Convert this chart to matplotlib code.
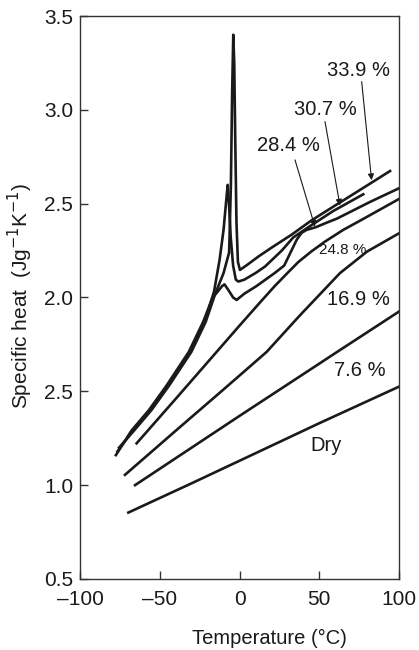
import matplotlib
matplotlib.use("Agg")
import matplotlib.pyplot as plt

plt.rcParams['font.family'] = ['Liberation Sans', 'DejaVu Sans']

# curves: temperature (C) and specific heat (J/g/K)
t_dry = [-69.7, -30, 0, 50, 100]
cp_dry = [0.854, 1.01, 1.13, 1.33, 1.525]

t_76 = [-65.5, 0, 37.9, 63, 100]
cp_76 = [1.0, 1.369, 1.58, 1.72, 1.925]

t_169 = [-71.8, -40, -10, 17, 37.9, 63, 80, 100]
cp_169 = [1.055, 1.29, 1.51, 1.71, 1.905, 2.13, 2.245, 2.342]

t_248 = [-64.5, -40, -20, 0, 13, 22, 30, 37, 45, 53.6, 65, 78.7, 100]
cp_248 = [1.223, 1.46, 1.655, 1.85, 1.975, 2.06, 2.13, 2.19, 2.245, 2.298, 2.36, 2.424, 2.525]

t_284 = [-77.5, -67.8, -56.8, -45.8, -31.8, -22.8, -16.8, -13.3, -11, -9.4, -7, -4, -1.8,
         3, 10.5, 22, 28, 32, 36, 39, 42, 48, 55, 61, 82, 100]
cp_284 = [1.16, 1.29, 1.40, 1.53, 1.71, 1.87, 2.0, 2.035, 2.06, 2.07, 2.04, 2.0, 1.987,
          2.02, 2.06, 2.13, 2.17, 2.24, 2.31, 2.345, 2.36, 2.375, 2.40, 2.42, 2.51, 2.582]

t_307 = [-76.5, -67, -56, -45, -31, -22, -16, -12.5, -10, -8.3, -7.4, -6.6, -5.5, -4, -2.3, -0.7,
         3, 10, 16, 26.5, 33.7, 45, 58.8, 77.6]
cp_307 = [1.18, 1.29, 1.40, 1.53, 1.71, 1.87, 2.03, 2.2, 2.36, 2.52, 2.60, 2.50, 2.32, 2.17, 2.095, 2.085,
          2.095, 2.13, 2.165, 2.25, 2.32, 2.385, 2.461, 2.55]

t_339 = [-75.5, -66.2, -55.2, -44.2, -30.2, -21.2, -15.2, -10, -6.5, -5.4, -4.6, -3.9, -3.3, -2.6, -1.9, -1.0,
         0.3, 5, 11.8, 20, 32.7, 45, 58.8, 78.7, 94.4]
cp_339 = [1.20, 1.29, 1.40, 1.53, 1.71, 1.87, 2.02, 2.13, 2.24, 2.6, 3.1, 3.40, 3.25, 2.8, 2.4, 2.19,
          2.147, 2.175, 2.218, 2.265, 2.335, 2.41, 2.484, 2.59, 2.674]

yticks = [0.5, 1.0, 1.5, 2.0, 2.5, 3.0, 3.5]
ytick_labels = ["0.5", "1.0", "2.5", "2.0", "2.5", "3.0", "3.5"]
xticks = [-100, -50, 0, 50, 100]
xtick_labels = ["\u2013100", "\u201350", "0", "50", "100"]

fig = plt.figure(figsize=(4.19, 6.5), dpi=100)
ax = fig.add_axes([80/419, 1-579/650, 319/419, 563/650])

for t, cp in [(t_dry, cp_dry), (t_76, cp_76), (t_169, cp_169), (t_248, cp_248),
              (t_284, cp_284), (t_307, cp_307), (t_339, cp_339)]:
    ax.plot(t, cp, color="#1a1a1a", lw=1.9, solid_joinstyle="round")

ax.set_xlim(-100, 100)
ax.set_ylim(0.5, 3.5)
ax.set_xticks(xticks)
ax.set_xticklabels(xtick_labels)
ax.set_yticks(yticks)
ax.set_yticklabels(ytick_labels)
ax.tick_params(direction="in", length=6, width=1, labelsize=15, colors="#333333",
               labelcolor="#1a1a1a")
ax.tick_params(axis="x", pad=8)
ax.tick_params(axis="y", pad=5)
for s in ax.spines.values():
    s.set_color("#333333")
    s.set_linewidth(1.0)

txt = "#1a1a1a"
arr = dict(arrowstyle="-|>", lw=0.8, color="#1a1a1a", mutation_scale=9, shrinkA=0, shrinkB=0)
ax.annotate("", xy=(82.8, 2.625), xytext=(76.6, 3.15), arrowprops=arr)
ax.annotate("", xy=(63, 2.49), xytext=(53.6, 2.937), arrowprops=arr)
ax.annotate("", xy=(47.3, 2.377), xytext=(34.8, 2.733), arrowprops=arr)
ax.text(74.9, 3.212, "33.9 %", fontsize=14.5, ha="center", va="center", color=txt)
ax.text(53.6, 3.002, "30.7 %", fontsize=14.5, ha="center", va="center", color=txt)
ax.text(30.7, 2.81, "28.4 %", fontsize=14.5, ha="center", va="center", color=txt)
ax.text(65, 2.253, "24.8 %", fontsize=11, ha="center", va="center", color=txt)
ax.text(74.3, 1.987, "16.9 %", fontsize=14.5, ha="center", va="center", color=txt)
ax.text(75.5, 1.611, "7.6 %", fontsize=14.5, ha="center", va="center", color=txt)
ax.text(54.2, 1.214, "Dry", fontsize=14.5, ha="center", va="center", color=txt)

fig.text(20/419, 1-296/650, "Specific heat  (Jg$^{-1}$K$^{-1}$)", rotation=90,
         fontsize=15, ha="center", va="center", color=txt)
fig.text(269/419, 1-638/650, "Temperature (\u00b0C)", fontsize=14.5,
         ha="center", va="center", color=txt)

fig.savefig("out.png", dpi=100)
